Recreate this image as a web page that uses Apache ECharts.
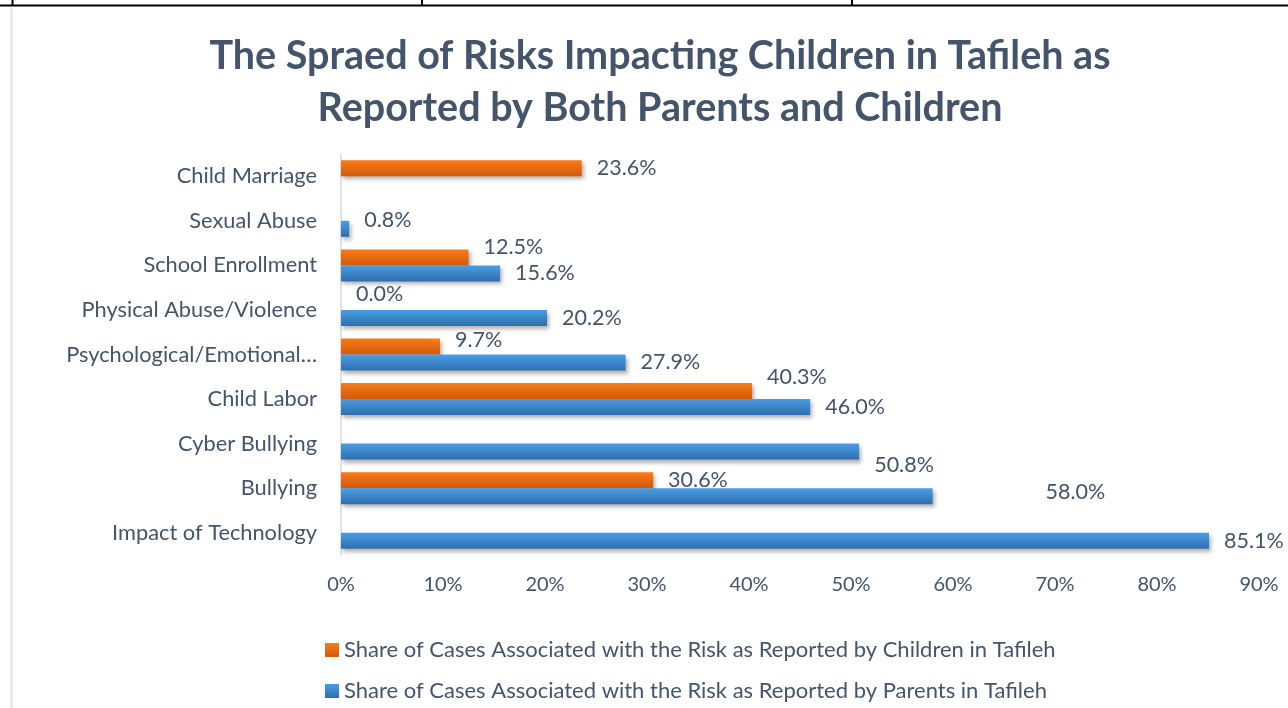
<!DOCTYPE html>
<html>
<head>
<meta charset="utf-8">
<script src="https://cdn.jsdelivr.net/npm/echarts@6/dist/echarts.min.js"></script>
<style>
  html, body { margin: 0; padding: 0; background: #fff; }
  #chart { width: 1288px; height: 708px; }
</style>
</head>
<body>
<div id="chart"></div>
<script>
// Categories listed bottom-to-top (ECharts category y-axis goes upward)
const categories = [
  'Impact of Technology',
  'Bullying',
  'Cyber Bullying',
  'Child Labor',
  'Psychological/Emotional…',
  'Physical Abuse/Violence',
  'School Enrollment',
  'Sexual Abuse',
  'Child Marriage'
];
const childrenValues = [null, 30.6, null, 40.3, 9.7, 0.0, 12.5, null, 23.6];
const parentsValues  = [85.1, 58.0, 50.8, 46.0, 27.9, 20.2, 15.6, 0.8, null];
const xTicks = [0, 10, 20, 30, 40, 50, 60, 70, 80, 90];
const seriesNames = [
  'Share of Cases Associated with the Risk as Reported by Children in Tafileh',
  'Share of Cases Associated with the Risk as Reported by Parents in Tafileh'
];
// label nudges [dx, dy] (styling only, matching the reference's label placement)
const childLabelNudge  = [[0,0],[0,0],[0,0],[0,-14],[0,-6],[0,-8],[0,-10],[0,0],[0,0]];
const parentLabelNudge = [[0,0],[98,-4],[0,13],[0,0],[0,0],[0,0],[0,0],[0,-9],[0,0]];

const textColor = '#44546A';
const orangeGrad = new echarts.graphic.LinearGradient(0, 0, 0, 1, [
  { offset: 0, color: '#FA7B17' }, { offset: 1, color: '#D0590C' }
]);
const blueGrad = new echarts.graphic.LinearGradient(0, 0, 0, 1, [
  { offset: 0, color: '#4A9DE4' }, { offset: 1, color: '#2F6EAE' }
]);

function buildData(values, nudges) {
  return values.map((v, i) => ({
    value: v,
    label: { offset: nudges[i] }
  }));
}

const labelStyle = {
  show: true,
  position: 'right',
  distance: 15,
  formatter: p => p.value == null ? '' : p.value.toFixed(1) + '%',
  fontFamily: 'Lato',
  fontSize: 21.5,
  color: textColor
};

const legendBase = {
  orient: 'vertical',
  left: 325,
  itemWidth: 14,
  itemHeight: 14,
  icon: 'rect',
  padding: 0,
  textStyle: { fontFamily: 'Lato', fontSize: 22, color: textColor }
};

const chart = echarts.init(document.getElementById('chart'), null, { renderer: 'canvas' });
const option = {
  backgroundColor: '#ffffff',
  animation: false,
  title: {
    text: 'The Spraed of Risks Impacting Children in Tafileh as\nReported by Both Parents and Children',
    left: 655,
    textAlign: 'center',
    top: 25,
    textStyle: {
      fontFamily: 'Lato',
      fontWeight: 'bold',
      fontSize: 39.5,
      lineHeight: 52,
      color: textColor
    }
  },
  legend: [
    Object.assign({}, legendBase, { top: 639, data: [seriesNames[0]] }),
    Object.assign({}, legendBase, { top: 680, data: [seriesNames[1]] })
  ],
  grid: {
    left: 341,
    right: 29,
    top: 154,
    bottom: 708 - 555,
    containLabel: false
  },
  xAxis: {
    type: 'value',
    min: 0,
    max: 90,
    interval: 10,
    axisLine: { show: false },
    axisTick: { show: false },
    splitLine: { show: false },
    axisLabel: {
      margin: 20,
      formatter: v => xTicks.includes(v) ? v + '%' : '',
      fontFamily: 'Lato',
      fontSize: 20,
      color: textColor
    }
  },
  yAxis: {
    type: 'category',
    data: categories,
    axisLine: { show: true, lineStyle: { color: '#D9D9D9', width: 1.5 } },
    axisTick: { show: false },
    axisLabel: {
      margin: 24,
      fontFamily: 'Lato',
      fontSize: 21.8,
      color: textColor
    }
  },
  series: [
    {
      name: seriesNames[0],
      type: 'bar',
      data: buildData(childrenValues, childLabelNudge),
      barWidth: 16,
      barGap: '0%',
      itemStyle: { color: orangeGrad, shadowColor: 'rgba(0,0,0,0.3)', shadowBlur: 4, shadowOffsetX: 2, shadowOffsetY: 3 },
      label: labelStyle
    },
    {
      name: seriesNames[1],
      type: 'bar',
      data: buildData(parentsValues, parentLabelNudge),
      barWidth: 16,
      barGap: '0%',
      itemStyle: { color: blueGrad, shadowColor: 'rgba(0,0,0,0.3)', shadowBlur: 4, shadowOffsetX: 2, shadowOffsetY: 3 },
      label: labelStyle
    }
  ],
  graphic: [
    { type: 'line', shape: { x1: 0, y1: 5.5, x2: 1288, y2: 5.5 }, style: { stroke: '#000', lineWidth: 2 } },
    { type: 'line', shape: { x1: 12.5, y1: 0, x2: 12.5, y2: 6 }, style: { stroke: '#000', lineWidth: 2 } },
    { type: 'line', shape: { x1: 422, y1: 0, x2: 422, y2: 6 }, style: { stroke: '#000', lineWidth: 2 } },
    { type: 'line', shape: { x1: 852, y1: 0, x2: 852, y2: 6 }, style: { stroke: '#000', lineWidth: 2 } },
    { type: 'line', shape: { x1: 11.5, y1: 8, x2: 11.5, y2: 708 }, style: { stroke: '#DDE1EA', lineWidth: 2 } }
  ]
};
chart.setOption(option);
</script>
</body>
</html>
